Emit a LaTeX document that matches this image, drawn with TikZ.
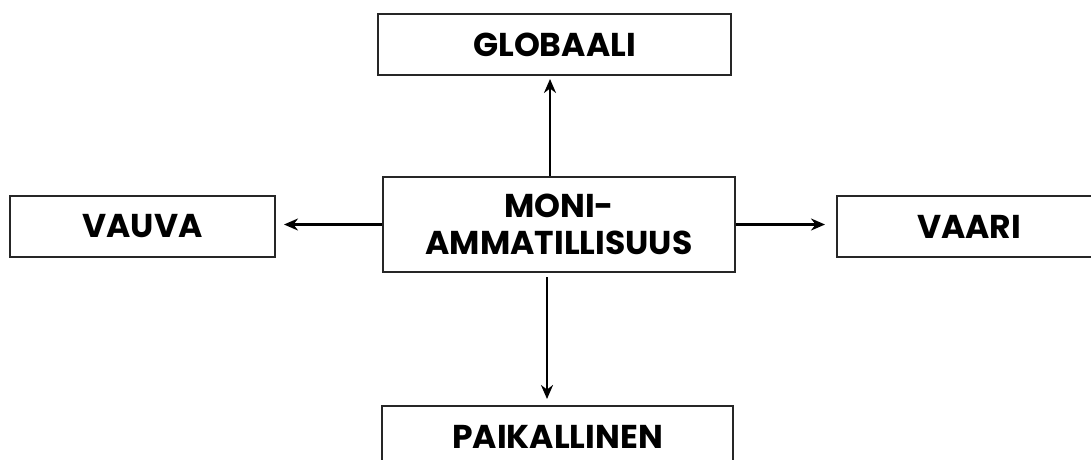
\documentclass[tikz,border=0pt]{standalone}
\usepackage{fontspec}
\setmainfont{Poppins}[UprightFont=* Bold]
\usetikzlibrary{arrows.meta}
\begin{document}
\begin{tikzpicture}[x=1pt,y=1pt,
  box/.style={draw=black!85, line width=2pt, rectangle, inner sep=0pt,
    minimum height=61pt, align=center, font=\fontsize{33}{37}\selectfont},
  link/.style={line width=2.8pt, -{Stealth[length=14pt,width=12pt]}}]
\useasboundingbox (0,0) rectangle (1091,459);
% boxes
\node[box, minimum width=353pt] (glob) at (554.5,414.5) {GLOBAALI};
\node[box, minimum width=352pt, minimum height=95pt] (moni) at (559,234.5) {MONI-\\AMMATILLISUUS};
\node[box, minimum width=265pt] (vauva) at (142.5,232.5) {VAUVA};
\node[box, minimum width=264pt] (vaari) at (969,232.5) {VAARI};
\node[box, minimum width=351pt] (paik) at (557.5,22.5) {PAIKALLINEN};
% arrows
\draw[link, shorten >=3pt] ([xshift=-9pt]moni.north) -- ([xshift=-9pt]moni.north |- glob.south);
\draw[link, shorten >=8pt] (moni.west) -- (moni.west -| vauva.east);
\draw[link, shorten >=11pt] (moni.east) -- (moni.east -| vaari.west);
\draw[link, shorten <=4pt, shorten >=6pt] ([xshift=-12pt]moni.south) -- ([xshift=-12pt]moni.south |- paik.north);
\end{tikzpicture}
\end{document}
